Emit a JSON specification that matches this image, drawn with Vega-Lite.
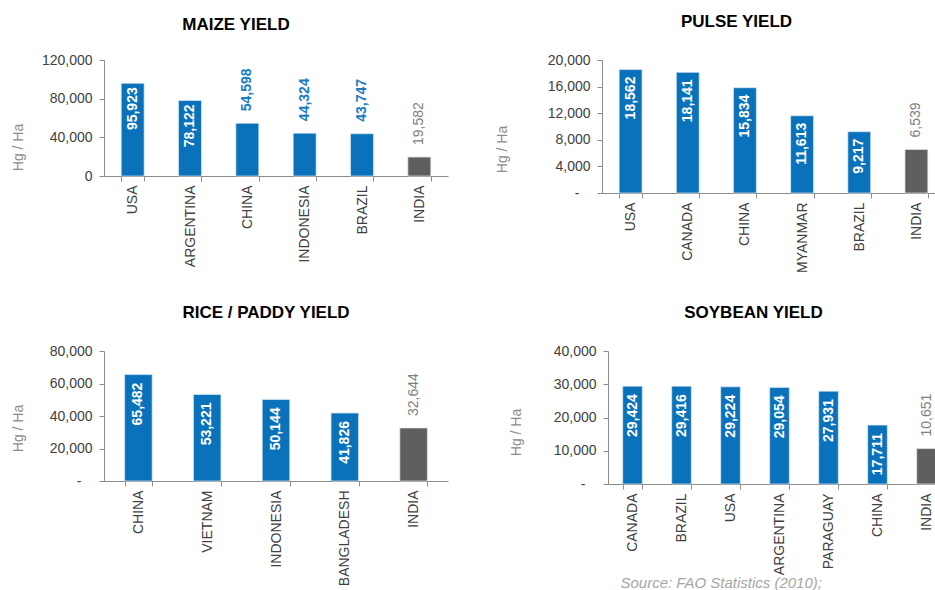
{
  "$schema": "https://vega.github.io/schema/vega-lite/v6.json",
  "padding": {"left": 11, "top": 13, "right": 0, "bottom": 0},
  "background": "white",
  "datasets": {
    "maize": [
      {"country": "USA", "yield": 95923},
      {"country": "ARGENTINA", "yield": 78122},
      {"country": "CHINA", "yield": 54598},
      {"country": "INDONESIA", "yield": 44324},
      {"country": "BRAZIL", "yield": 43747},
      {"country": "INDIA", "yield": 19582}
    ],
    "pulse": [
      {"country": "USA", "yield": 18562},
      {"country": "CANADA", "yield": 18141},
      {"country": "CHINA", "yield": 15834},
      {"country": "MYANMAR", "yield": 11613},
      {"country": "BRAZIL", "yield": 9217},
      {"country": "INDIA", "yield": 6539}
    ],
    "rice": [
      {"country": "CHINA", "yield": 65482},
      {"country": "VIETNAM", "yield": 53221},
      {"country": "INDONESIA", "yield": 50144},
      {"country": "BANGLADESH", "yield": 41826},
      {"country": "INDIA", "yield": 32644}
    ],
    "soybean": [
      {"country": "CANADA", "yield": 29424},
      {"country": "BRAZIL", "yield": 29416},
      {"country": "USA", "yield": 29224},
      {"country": "ARGENTINA", "yield": 29054},
      {"country": "PARAGUAY", "yield": 27931},
      {"country": "CHINA", "yield": 17711},
      {"country": "INDIA", "yield": 10651}
    ]
  },
  "vconcat": [
    {
      "hconcat": [
        {
          "title": {"text": "MAIZE YIELD", "dx": -40, "offset": 6, "baseline": "alphabetic"},
          "width": 344, "height": 116,
          "data": {"name": "maize"},
          "encoding": {
            "x": {"field": "country", "type": "nominal", "sort": null,
              "scale": {"paddingInner": 0.6, "paddingOuter": 0.3},
              "axis": {"title": null, "labelAngle": -90, "tickBand": "extent", "tickSize": 5, "labelPadding": 4}},
            "y": {"field": "yield", "type": "quantitative",
              "scale": {"domain": [0, 120000], "nice": false},
              "axis": {"values": [0, 40000, 80000, 120000], "format": ",.0f", "tickSize": 5, "labelPadding": 7,
                "title": "Hg / Ha", "titleX": -86, "titleY": 87, "titleBaseline": "middle", "titleAlign": "center", "titleAngle": 270}}
          },
          "layer": [
            {"mark": {"type": "bar", "stroke": "#dbe8f3", "strokeWidth": 0.7},
             "encoding": {"color": {"condition": {"test": "datum.country === 'INDIA'", "value": "#5f5f5f"}, "value": "#0a72ba"}}},
            {"transform": [{"filter": "datum.country !== 'INDIA' && datum.yield > 60000"}],
             "mark": {"type": "text", "angle": 270, "align": "right", "baseline": "middle", "dx": -4, "color": "white", "fontWeight": "bold", "fontSize": 14},
             "encoding": {"text": {"field": "yield", "type": "quantitative", "format": ",.0f"}}},
            {"transform": [{"filter": "datum.country !== 'INDIA' && datum.yield <= 60000"}],
             "mark": {"type": "text", "angle": 270, "align": "left", "baseline": "middle", "dx": 12, "color": "#1a7cc4", "fontWeight": "bold", "fontSize": 14},
             "encoding": {"text": {"field": "yield", "type": "quantitative", "format": ",.0f"}}},
            {"transform": [{"filter": "datum.country === 'INDIA'"}],
             "mark": {"type": "text", "angle": 270, "align": "left", "baseline": "middle", "dx": 12, "color": "#7f7f7f", "fontSize": 14},
             "encoding": {"text": {"field": "yield", "type": "quantitative", "format": ",.0f"}}}
          ]
        },
        {
          "title": {"text": "PULSE YIELD", "dx": -37, "offset": 9, "baseline": "alphabetic"},
          "width": 343, "height": 133,
          "data": {"name": "pulse"},
          "encoding": {
            "x": {"field": "country", "type": "nominal", "sort": null,
              "scale": {"paddingInner": 0.6, "paddingOuter": 0.3},
              "axis": {"title": null, "labelAngle": -90, "tickBand": "extent", "tickSize": 5, "labelPadding": 4}},
            "y": {"field": "yield", "type": "quantitative",
              "scale": {"domain": [0, 20000], "nice": false},
              "axis": {"values": [0, 4000, 8000, 12000, 16000, 20000], "format": ",.0f", "labelExpr": "datum.value === 0 ? '-' : datum.label", "tickSize": 5,
                "labelPadding": {"condition": {"test": "datum.value === 0", "value": 18}, "value": 7},
                "title": "Hg / Ha", "titleX": -100, "titleY": 89, "titleBaseline": "middle", "titleAlign": "center", "titleAngle": 270}}
          },
          "layer": [
            {"mark": {"type": "bar", "stroke": "#dbe8f3", "strokeWidth": 0.7},
             "encoding": {"color": {"condition": {"test": "datum.country === 'INDIA'", "value": "#5f5f5f"}, "value": "#0a72ba"}}},
            {"transform": [{"filter": "datum.country !== 'INDIA'"}],
             "mark": {"type": "text", "angle": 270, "align": "right", "baseline": "middle", "dx": -7, "color": "white", "fontWeight": "bold", "fontSize": 14},
             "encoding": {"text": {"field": "yield", "type": "quantitative", "format": ",.0f"}}},
            {"transform": [{"filter": "datum.country === 'INDIA'"}],
             "mark": {"type": "text", "angle": 270, "align": "left", "baseline": "middle", "dx": 12, "color": "#7f7f7f", "fontSize": 14},
             "encoding": {"text": {"field": "yield", "type": "quantitative", "format": ",.0f"}}}
          ]
        }
      ],
      "spacing": 47
    },
    {
      "hconcat": [
        {
          "title": {"text": "RICE / PADDY YIELD", "dx": -10, "offset": 9, "baseline": "alphabetic"},
          "width": 344, "height": 130,
          "data": {"name": "rice"},
          "encoding": {
            "x": {"field": "country", "type": "nominal", "sort": null,
              "scale": {"paddingInner": 0.6, "paddingOuter": 0.3},
              "axis": {"title": null, "labelAngle": -90, "tickBand": "extent", "tickSize": 5, "labelPadding": 4}},
            "y": {"field": "yield", "type": "quantitative",
              "scale": {"domain": [0, 80000], "nice": false},
              "axis": {"values": [0, 20000, 40000, 60000, 80000], "format": ",.0f", "labelExpr": "datum.value === 0 ? '-' : datum.label", "tickSize": 5,
                "labelPadding": {"condition": {"test": "datum.value === 0", "value": 18}, "value": 7},
                "title": "Hg / Ha", "titleX": -86, "titleY": 77, "titleBaseline": "middle", "titleAlign": "center", "titleAngle": 270}}
          },
          "layer": [
            {"mark": {"type": "bar", "stroke": "#dbe8f3", "strokeWidth": 0.7},
             "encoding": {"color": {"condition": {"test": "datum.country === 'INDIA'", "value": "#5f5f5f"}, "value": "#0a72ba"}}},
            {"transform": [{"filter": "datum.country !== 'INDIA'"}],
             "mark": {"type": "text", "angle": 270, "align": "right", "baseline": "middle", "dx": -8, "color": "white", "fontWeight": "bold", "fontSize": 14},
             "encoding": {"text": {"field": "yield", "type": "quantitative", "format": ",.0f"}}},
            {"transform": [{"filter": "datum.country === 'INDIA'"}],
             "mark": {"type": "text", "angle": 270, "align": "left", "baseline": "middle", "dx": 12, "color": "#7f7f7f", "fontSize": 14},
             "encoding": {"text": {"field": "yield", "type": "quantitative", "format": ",.0f"}}}
          ]
        },
        {
          "title": {"text": "SOYBEAN YIELD", "dx": -26, "offset": 9, "baseline": "alphabetic"},
          "width": 343, "height": 133,
          "data": {"name": "soybean"},
          "encoding": {
            "x": {"field": "country", "type": "nominal", "sort": null,
              "scale": {"paddingInner": 0.6, "paddingOuter": 0.3},
              "axis": {"title": "Source: FAO Statistics (2010);", "titleX": 12, "titleY": 103, "titleAlign": "left", "titleBaseline": "alphabetic",
                "titleFontStyle": "italic", "titleFontSize": 15, "titleColor": "#a6a6a6",
                "labelAngle": -90, "tickBand": "extent", "tickSize": 5, "labelPadding": 4}},
            "y": {"field": "yield", "type": "quantitative",
              "scale": {"domain": [0, 40000], "nice": false},
              "axis": {"values": [0, 10000, 20000, 30000, 40000], "format": ",.0f", "labelExpr": "datum.value === 0 ? '-' : datum.label", "tickSize": 5,
                "labelPadding": {"condition": {"test": "datum.value === 0", "value": 18}, "value": 7},
                "title": "Hg / Ha", "titleX": -92, "titleY": 81, "titleBaseline": "middle", "titleAlign": "center", "titleAngle": 270}}
          },
          "layer": [
            {"mark": {"type": "bar", "stroke": "#dbe8f3", "strokeWidth": 0.7},
             "encoding": {"color": {"condition": {"test": "datum.country === 'INDIA'", "value": "#5f5f5f"}, "value": "#0a72ba"}}},
            {"transform": [{"filter": "datum.country !== 'INDIA'"}],
             "mark": {"type": "text", "angle": 270, "align": "right", "baseline": "middle", "dx": -8, "color": "white", "fontWeight": "bold", "fontSize": 14},
             "encoding": {"text": {"field": "yield", "type": "quantitative", "format": ",.0f"}}},
            {"transform": [{"filter": "datum.country === 'INDIA'"}],
             "mark": {"type": "text", "angle": 270, "align": "left", "baseline": "middle", "dx": 12, "color": "#7f7f7f", "fontSize": 14},
             "encoding": {"text": {"field": "yield", "type": "quantitative", "format": ",.0f"}}}
          ]
        }
      ],
      "spacing": 61
    }
  ],
  "spacing": 31,
  "config": {
    "font": "Liberation Sans",
    "view": {"stroke": null},
    "axis": {
      "grid": false,
      "labelFont": "Liberation Sans", "labelFontSize": 14, "labelColor": "#404040",
      "domainColor": "#8c8c8c", "tickColor": "#8c8c8c",
      "titleFont": "Liberation Sans", "titleFontSize": 14, "titleFontWeight": "normal", "titleColor": "#8c8c8c"
    },
    "title": {"font": "Liberation Sans", "fontSize": 17, "fontWeight": "bold", "color": "#000000", "anchor": "middle"}
  }
}
